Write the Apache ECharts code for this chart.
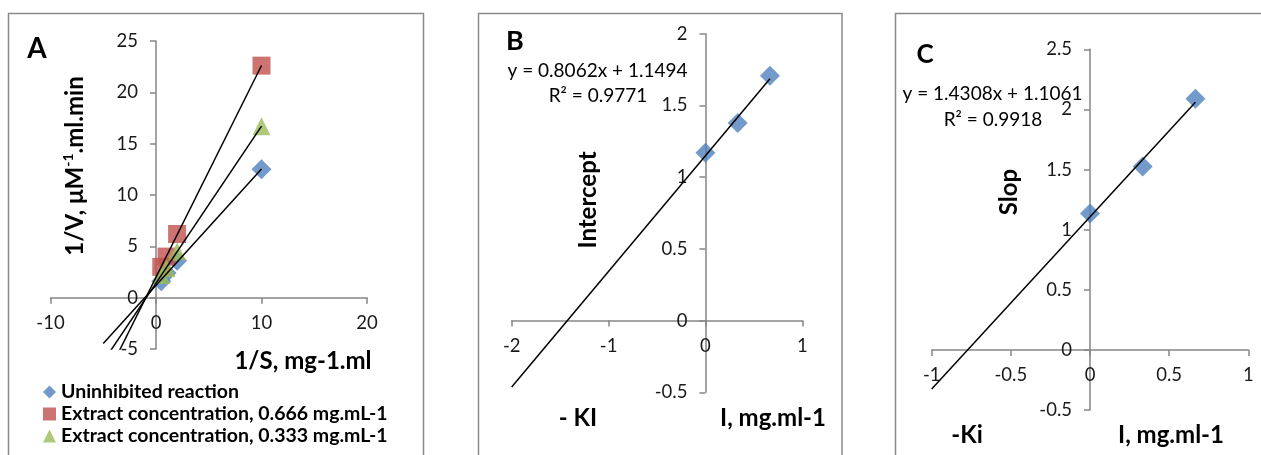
<!DOCTYPE html>
<html><head><meta charset="utf-8">
<script src="https://cdn.jsdelivr.net/npm/echarts@6/dist/echarts.min.js"></script>
<style>html,body{margin:0;padding:0;background:#fff}#c{width:1261px;height:455px}</style>
</head><body><div id="c"></div>
<script>
// ---------- Panel A : Lineweaver-Burk plot ----------
const aX = [0.5, 1, 2, 10];                       // 1/S
const aUninhibited = [1.6, 2.4, 3.6, 12.5];       // 1/V
const aExtract666  = [3.0, 4.0, 6.2, 22.6];
const aExtract333  = [2.2, 2.9, 4.5, 16.7];
const aNames = ['Uninhibited reaction', 'Extract concentration, 0.666 mg.mL-1', 'Extract concentration, 0.333 mg.mL-1'];
const aXTicks = [-10, 0, 10, 20];
const aYTicks = [-5, 0, 5, 10, 15, 20, 25];
const aTrendRange = [-5, 10];

// ---------- Panel B : intercept replot ----------
const bX = [0, 0.333, 0.666];
const bIntercept = [1.17, 1.377, 1.707];
const bXTicks = [-2, -1, 0, 1];
const bYTicks = [-0.5, 0, 0.5, 1, 1.5, 2];
const bTrendRange = [-2, 0.666];
const bEquation = ['y = 0.8062x + 1.1494', 'R² = 0.9771'];

// ---------- Panel C : slope replot ----------
const cX = [0, 0.333, 0.666];
const cSlope = [1.135, 1.525, 2.088];
const cXTicks = [-1, -0.5, 0, 0.5, 1];
const cYTicks = [-0.5, 0, 0.5, 1, 1.5, 2, 2.5];
const cTrendRange = [-1, 0.666];
const cEquation = ['y = 1.4308x + 1.1061', 'R² = 0.9918'];

const BLUE = '#4F81BD', RED = '#C0504D', GREEN = '#9BBB59';
const AXIS = '#868686';
const FONT = 'Lato';
const TICK_FS = 18.5, TITLE_FS = 24, LEGEND_FS = 19.5, EQ_FS = 19;

const grids = [
  { left: 50.5, top: 41, width: 316.5, height: 308 },
  { left: 511.7, top: 33.7, width: 290.6, height: 358.6 },
  { left: 931.7, top: 49.3, width: 316.6, height: 360.7 }
];

function linReg(xs, ys) {
  const n = xs.length;
  const mx = xs.reduce((a, b) => a + b, 0) / n;
  const my = ys.reduce((a, b) => a + b, 0) / n;
  let sxy = 0, sxx = 0;
  for (let i = 0; i < n; i++) { sxy += (xs[i] - mx) * (ys[i] - my); sxx += (xs[i] - mx) ** 2; }
  const k = sxy / sxx;
  return { k, b: my - k * mx };
}
function trend(xs, ys, range) {
  const r = linReg(xs, ys);
  return range.map(x => [x, r.k * x + r.b]);
}
function pairs(xs, ys) { return xs.map((x, i) => [x, ys[i]]); }
// axis crossing the other axis at zero: shift it from the grid edge by the zero fraction of the other axis
function axisFrom(ticks, otherTicks, gridIndex, isX) {
  const g = grids[gridIndex];
  const oMin = otherTicks[0], oMax = otherTicks[otherTicks.length - 1];
  const frac = (0 - oMin) / (oMax - oMin);
  const span = isX ? g.height : g.width;
  return {
    type: 'value', gridIndex, position: isX ? 'bottom' : 'left',
    offset: -span * frac,
    min: ticks[0], max: ticks[ticks.length - 1], interval: ticks[1] - ticks[0],
    axisLine: { show: true, onZero: false, lineStyle: { color: AXIS, width: 1.5 } },
    axisTick: { show: true, length: 6, lineStyle: { color: AXIS, width: 1.5 } },
    axisLabel: { fontFamily: FONT, fontSize: TICK_FS, color: '#1a1a1a', margin: isX ? 16 : 18 },
    splitLine: { show: false }
  };
}
function scatter(name, xi, data, symbol, color, size) {
  return { type: 'scatter', name, xAxisIndex: xi, yAxisIndex: xi, data, symbol, symbolSize: size,
    itemStyle: { color }, z: 2 };
}
function trendLine(xi, data) {
  return { type: 'line', xAxisIndex: xi, yAxisIndex: xi, data, symbol: 'none', clip: true,
    lineStyle: { color: '#000', width: 1.5 }, z: 3, silent: true };
}
function txt(text, x, y, size, bold, rot) {
  return { type: 'text', x, y, rotation: rot || 0, z: 10,
    style: { text, x: 0, y: 0, fill: '#000', font: (bold ? 'bold ' : '') + size + 'px ' + FONT,
      align: 'center', verticalAlign: 'middle' } };
}
function frame(x, y, w, h) {
  return { type: 'rect', shape: { x, y, width: w, height: h }, z: 0,
    style: { fill: 'none', stroke: '#8a8a8a', lineWidth: 1.5 } };
}

const chart = echarts.init(document.getElementById('c'));
chart.setOption({
  animation: false,
  backgroundColor: '#fff',
  grid: grids,
  xAxis: [axisFrom(aXTicks, aYTicks, 0, true), axisFrom(bXTicks, bYTicks, 1, true), axisFrom(cXTicks, cYTicks, 2, true)],
  yAxis: [axisFrom(aYTicks, aXTicks, 0, false), axisFrom(bYTicks, bXTicks, 1, false), axisFrom(cYTicks, cXTicks, 2, false)],
  legend: {
    data: [
      { name: aNames[0], icon: 'diamond' },
      { name: aNames[1], icon: 'rect' },
      { name: aNames[2], icon: 'triangle' }
    ],
    orient: 'vertical', left: 43, top: 381, padding: 0, itemGap: 0,
    itemWidth: 13, itemHeight: 13, selectedMode: false,
    textStyle: { fontFamily: FONT, fontWeight: 'bold', fontSize: LEGEND_FS, color: '#000', lineHeight: 22 }
  },
  series: [
    scatter(aNames[0], 0, pairs(aX, aUninhibited), 'diamond', BLUE, 20),
    scatter(aNames[1], 0, pairs(aX, aExtract666), 'rect', RED, 18),
    scatter(aNames[2], 0, pairs(aX, aExtract333), 'triangle', GREEN, 18),
    trendLine(0, trend(aX, aUninhibited, aTrendRange)),
    trendLine(0, trend(aX, aExtract666, aTrendRange)),
    trendLine(0, trend(aX, aExtract333, aTrendRange)),
    scatter('Intercept', 1, pairs(bX, bIntercept), 'diamond', BLUE, 20),
    trendLine(1, trend(bX, bIntercept, bTrendRange)),
    scatter('Slop', 2, pairs(cX, cSlope), 'diamond', BLUE, 20),
    trendLine(2, trend(cX, cSlope, cTrendRange))
  ],
  graphic: [
    frame(8.5, 13.5, 415, 470),
    frame(478.5, 13.5, 363.5, 470),
    frame(895.5, 13.5, 400, 470),
    txt('A', 37, 49, 28, true),
    {
      type: 'text', x: 75, y: 166, rotation: Math.PI / 2, z: 10,
      style: {
        text: '{a|1/V, μM}{s|-1}{a|.ml.min}', x: 0, y: 0, align: 'center', verticalAlign: 'middle',
        rich: {
          a: { font: 'bold ' + TITLE_FS + 'px ' + FONT, fill: '#000', lineHeight: 28, verticalAlign: 'middle' },
          s: { font: 'bold 14px ' + FONT, fill: '#000', lineHeight: 14, verticalAlign: 'top' }
        }
      }
    },
    txt('1/S, mg-1.ml', 303, 361, TITLE_FS, true),
    txt('B', 515, 41.5, 27, true),
    txt(bEquation[0], 597.5, 71, EQ_FS, false),
    txt(bEquation[1], 598, 96, EQ_FS, false),
    txt('Intercept', 588, 200, TITLE_FS, true, Math.PI / 2),
    txt('- KI', 578, 418, TITLE_FS, true),
    txt('I, mg.ml-1', 773, 418, TITLE_FS, true),
    txt('C', 925, 54.5, 26, true),
    txt(cEquation[0], 992.5, 94, EQ_FS, false),
    txt(cEquation[1], 993, 120, EQ_FS, false),
    txt('Slop', 1009, 192, TITLE_FS, true, Math.PI / 2),
    txt('-Ki', 967, 435, TITLE_FS, true),
    txt('I, mg.ml-1', 1171, 435, TITLE_FS, true)
  ]
});
</script>
</body></html>
